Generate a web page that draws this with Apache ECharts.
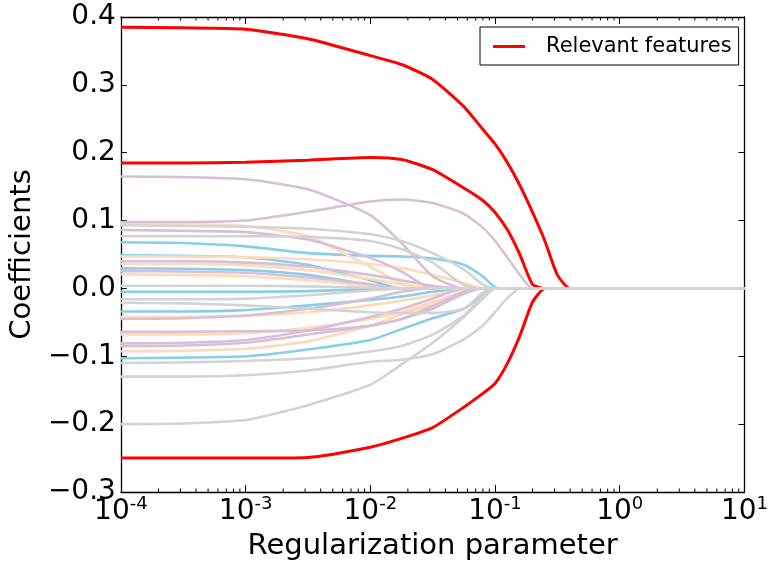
<!DOCTYPE html>
<html>
<head>
<meta charset="utf-8">
<script src="https://cdn.jsdelivr.net/npm/echarts@6/dist/echarts.min.js"></script>
<style>
html,body{margin:0;padding:0;background:#fff;}
#chart{width:771px;height:567px;}
</style>
</head>
<body>
<div id="chart"></div>
<script>
// Regularization parameter grid (alpha)
const alphas = [0.0001, 0.000316, 0.001, 0.00316, 0.01, 0.0178, 0.0316, 0.0562, 0.0794, 0.1, 0.126, 0.158, 0.2, 0.251, 0.316, 0.398, 0.501, 10];

// Relevant features (red)
const relevant1 = [0.385, 0.384, 0.382, 0.368, 0.343, 0.330, 0.308, 0.268, 0.235, 0.213, 0.185, 0.152, 0.112, 0.07, 0.02, 0, 0, 0];
const relevant2 = [0.185, 0.185, 0.186, 0.189, 0.193, 0.19, 0.175, 0.148, 0.13, 0.112, 0.086, 0.05, 0.006, 0, 0, 0, 0, 0];
const relevant3 = [-0.25, -0.25, -0.25, -0.249, -0.234, -0.221, -0.205, -0.175, -0.155, -0.14, -0.11, -0.07, -0.02, 0, 0, 0, 0, 0];

// Irrelevant features, by colour
const blue1 = [0.068, 0.067, 0.062, 0.052, 0.048, 0.047, 0.044, 0.035, 0.018, 0.002, 0, 0, 0, 0, 0, 0, 0, 0];
const blue2 = [0.049, 0.048, 0.046, 0.035, 0.012, 0, 0, 0, 0, 0, 0, 0, 0, 0, 0, 0, 0, 0];
const blue3 = [0.0295, 0.029, 0.027, 0.02, 0.005, 0, 0, 0, 0, 0, 0, 0, 0, 0, 0, 0, 0, 0];
const blue4 = [-0.005, -0.005, -0.005, -0.004, -0.001, 0, 0, 0, 0, 0, 0, 0, 0, 0, 0, 0, 0, 0];
const blue5 = [-0.034, -0.034, -0.032, -0.025, -0.017, -0.012, -0.005, 0, 0, 0, 0, 0, 0, 0, 0, 0, 0, 0];
const blue6 = [-0.103, -0.102, -0.1, -0.09, -0.076, -0.06, -0.044, -0.03, -0.01, 0, 0, 0, 0, 0, 0, 0, 0, 0];

const peach1 = [0.096, 0.095, 0.092, 0.077, 0.032, 0.008, 0, 0, 0, 0, 0, 0, 0, 0, 0, 0, 0, 0];
const peach2 = [0.047, 0.047, 0.046, 0.043, 0.036, 0.03, 0.02, 0.008, 0, 0, 0, 0, 0, 0, 0, 0, 0, 0];
const peach3 = [0.036, 0.036, 0.034, 0.027, 0.014, 0.006, 0, 0, 0, 0, 0, 0, 0, 0, 0, 0, 0, 0];
const peach4 = [0.0207, 0.02, 0.018, 0.012, 0.004, 0, 0, 0, 0, 0, 0, 0, 0, 0, 0, 0, 0, 0];
const peach5 = [-0.042, -0.042, -0.04, -0.035, -0.025, -0.018, -0.01, -0.002, 0, 0, 0, 0, 0, 0, 0, 0, 0, 0];
const peach6 = [-0.068, -0.068, -0.066, -0.058, -0.045, -0.035, -0.02, -0.005, 0, 0, 0, 0, 0, 0, 0, 0, 0, 0];
const peach7 = [-0.0925, -0.092, -0.089, -0.078, -0.055, -0.038, -0.024, -0.008, 0, 0, 0, 0, 0, 0, 0, 0, 0, 0];

const purple1 = [0.165, 0.164, 0.161, 0.146, 0.108, 0.067, 0.018, 0, 0, 0, 0, 0, 0, 0, 0, 0, 0, 0];
const purple2 = [0.098, 0.098, 0.1, 0.113, 0.128, 0.131, 0.126, 0.11, 0.09, 0.07, 0.045, 0.02, 0, 0, 0, 0, 0, 0];
const purple3 = [0.086, 0.085, 0.083, 0.072, 0.045, 0.025, 0, 0, 0, 0, 0, 0, 0, 0, 0, 0, 0, 0];
const purple4 = [0.040, 0.04, 0.038, 0.032, 0.02, 0.012, 0.004, 0, 0, 0, 0, 0, 0, 0, 0, 0, 0, 0];
const purple5 = [0.0255, 0.025, 0.023, 0.016, 0.006, 0, 0, 0, 0, 0, 0, 0, 0, 0, 0, 0, 0, 0];
const purple6 = [-0.045, -0.044, -0.04, -0.03, -0.015, -0.005, 0, 0, 0, 0, 0, 0, 0, 0, 0, 0, 0, 0];
const purple7 = [-0.064, -0.064, -0.063, -0.062, -0.055, -0.045, -0.026, -0.005, 0, 0, 0, 0, 0, 0, 0, 0, 0, 0];
const purple8 = [-0.081, -0.08, -0.076, -0.062, -0.042, -0.03, -0.015, 0, 0, 0, 0, 0, 0, 0, 0, 0, 0, 0];
const purple9 = [-0.085, -0.084, -0.08, -0.068, -0.055, -0.045, -0.03, -0.008, 0, 0, 0, 0, 0, 0, 0, 0, 0, 0];

const grey1 = [0.093, 0.092, 0.091, 0.088, 0.08, 0.07, 0.052, 0.028, 0.006, 0, 0, 0, 0, 0, 0, 0, 0, 0];
const grey2 = [0.077, 0.077, 0.077, 0.076, 0.07, 0.058, 0.038, 0.005, 0, 0, 0, 0, 0, 0, 0, 0, 0, 0];
const grey3 = [0.004, 0.004, 0.004, 0.003, 0.001, 0, 0, 0, 0, 0, 0, 0, 0, 0, 0, 0, 0, 0];
const grey4 = [-0.016, -0.016, -0.015, -0.01, -0.003, 0, 0, 0, 0, 0, 0, 0, 0, 0, 0, 0, 0, 0];
const grey5 = [-0.021, -0.022, -0.025, -0.03, -0.035, -0.036, -0.036, -0.03, -0.006, 0, 0, 0, 0, 0, 0, 0, 0, 0];
const grey6 = [-0.11, -0.109, -0.107, -0.103, -0.093, -0.085, -0.068, -0.04, -0.012, 0, 0, 0, 0, 0, 0, 0, 0, 0];
const grey7 = [-0.13, -0.13, -0.128, -0.121, -0.108, -0.105, -0.097, -0.075, -0.055, -0.035, -0.014, 0, 0, 0, 0, 0, 0, 0];
const grey8 = [-0.2, -0.199, -0.194, -0.172, -0.142, -0.112, -0.08, -0.042, -0.016, 0, 0, 0, 0, 0, 0, 0, 0, 0];

const relevantLines = [relevant1, relevant2, relevant3];
const blueLines = [blue1, blue2, blue3, blue4, blue5, blue6];
const peachLines = [peach1, peach2, peach3, peach4, peach5, peach6, peach7];
const purpleLines = [purple1, purple2, purple3, purple4, purple5, purple6, purple7, purple8, purple9];
const greyLines = [grey1, grey2, grey3, grey4, grey5, grey6, grey7, grey8];

const legendLabel = 'Relevant features';

const FONT = 'DejaVu Sans';
const RED = '#ff0000', BLUE = '#87ceeb', PEACH = '#ffdab9', PURPLE = '#d8bfd8', GREY = '#d3d3d3';

function toPairs(vals){ return vals.map((v,i)=>[alphas[i], v]); }
function lineSeries(vals, color, name, width){
  return {
    type: 'line', name: name, data: toPairs(vals),
    xAxisIndex: 0, yAxisIndex: 0,
    symbol: 'none', showSymbol: false,
    smooth: 0.2,
    lineStyle: {color: color, width: width},
    itemStyle: {color: color},
    emphasis: {disabled: true}, silent: true, animation: false, z: 2
  };
}

const series = [];
relevantLines.forEach(v => series.push(lineSeries(v, RED, legendLabel, 3)));
blueLines.forEach((v,i) => series.push(lineSeries(v, BLUE, 'blue'+i, 2.6)));
peachLines.forEach((v,i) => series.push(lineSeries(v, PEACH, 'peach'+i, 2.6)));
purpleLines.forEach((v,i) => series.push(lineSeries(v, PURPLE, 'purple'+i, 2.6)));
greyLines.forEach((v,i) => series.push(lineSeries(v, GREY, 'grey'+i, 2.6)));

// minor log ticks (axis decoration)
const minorTicks = [];
for (let n = -4; n <= 0; n++) for (let k = 2; k <= 9; k++) minorTicks.push([k * Math.pow(10, n), 0]);
series.push({
  type: 'custom', name: 'minorTicks', data: minorTicks, silent: true, animation: false, z: 5,
  xAxisIndex: 0, yAxisIndex: 0, clip: false,
  renderItem: function(params, api){
    const x = api.coord([api.value(0), 0])[0];
    const cs = params.coordSys;
    const b = cs.y + cs.height, t = cs.y;
    return {type: 'group', children: [
      {type: 'line', shape: {x1: x, y1: b, x2: x, y2: b - 3.5}, style: {stroke: '#000', lineWidth: 1}},
      {type: 'line', shape: {x1: x, y1: t, x2: x, y2: t + 3.5}, style: {stroke: '#000', lineWidth: 1}}
    ]};
  }
});

function fmtY(v){
  const r = Math.round(v*10)/10;
  const s = Math.abs(r).toFixed(1);
  return (r < 0 ? '\u2212' : '') + s;
}

const chart = echarts.init(document.getElementById('chart'), null, {renderer: 'canvas'});
chart.setOption({
  animation: false,
  backgroundColor: '#fff',
  textStyle: {fontFamily: FONT},
  grid: {left: 119, right: 19, top: 17, bottom: 75, containLabel: false},
  legend: {
    data: [{name: legendLabel, icon: 'rect'}], left: 480, top: 27,
    backgroundColor: '#fff', borderColor: '#000', borderWidth: 1, borderRadius: 0,
    padding: [9, 7, 8, 13], itemWidth: 32, itemHeight: 3,
    itemStyle: {color: RED},
    textStyle: {fontFamily: FONT, fontSize: 21, color: '#000', padding: [0, 0, 0, 16], lineHeight: 20},
    selectedMode: false
  },
  xAxis: [{
    type: 'log', logBase: 10, min: 0.0001, max: 10, position: 'bottom',
    name: 'Regularization parameter', nameLocation: 'middle', nameGap: 40,
    nameTextStyle: {fontFamily: FONT, fontSize: 29, color: '#000'},
    axisLine: {show: true, onZero: false, lineStyle: {color: '#000', width: 1.3}},
    axisTick: {show: true, inside: true, length: 7, lineStyle: {color: '#000', width: 1}},
    splitLine: {show: false}, minorTick: {show: false},
    axisLabel: {
      margin: 3, showMinLabel: true, showMaxLabel: true,
      formatter: function(v){ const e = Math.round(Math.log10(v)); return '{b|10}{s|' + e + '}'; },
      rich: {
        b: {fontFamily: FONT, fontSize: 28, color: '#000', lineHeight: 34},
        s: {fontFamily: FONT, fontSize: 18, color: '#000', verticalAlign: 'top', lineHeight: 34, padding: [0,0,14,0]}
      }
    }
  }, {
    type: 'log', logBase: 10, min: 0.0001, max: 10, position: 'top',
    axisLine: {show: true, onZero: false, lineStyle: {color: '#000', width: 1.3}},
    axisTick: {show: true, inside: true, length: 7, lineStyle: {color: '#000', width: 1}},
    axisLabel: {show: false}, splitLine: {show: false}
  }],
  yAxis: [{
    type: 'value', min: -0.3, max: 0.4, interval: 0.1, position: 'left',
    name: 'Coefficients', nameLocation: 'middle', nameGap: 76,
    nameTextStyle: {fontFamily: FONT, fontSize: 29, color: '#000'},
    axisLine: {show: true, onZero: false, lineStyle: {color: '#000', width: 1.3}},
    axisTick: {show: true, inside: true, length: 6, lineStyle: {color: '#000', width: 1}},
    splitLine: {show: false},
    axisLabel: {margin: 5, fontFamily: FONT, fontSize: 28, color: '#000', formatter: fmtY}
  }, {
    type: 'value', min: -0.3, max: 0.4, interval: 0.1, position: 'right',
    axisLine: {show: true, onZero: false, lineStyle: {color: '#000', width: 1.3}},
    axisTick: {show: true, inside: true, length: 6, lineStyle: {color: '#000', width: 1}},
    axisLabel: {show: false}, splitLine: {show: false}
  }],
  series: series
});
</script>
</body>
</html>
